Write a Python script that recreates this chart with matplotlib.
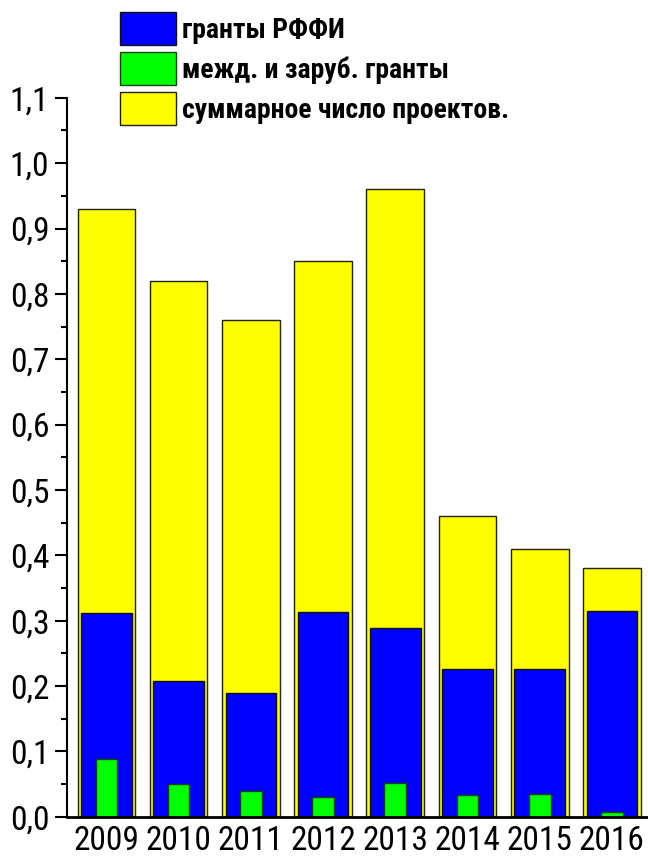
import matplotlib
matplotlib.use('Agg')
import matplotlib.pyplot as plt
from matplotlib.ticker import MultipleLocator, FuncFormatter

years = ['2009', '2010', '2011', '2012', '2013', '2014', '2015', '2016']
total = [0.93, 0.82, 0.76, 0.85, 0.96, 0.46, 0.41, 0.38]
rffi = [0.312, 0.207, 0.190, 0.313, 0.289, 0.226, 0.226, 0.315]
intl = [0.089, 0.050, 0.040, 0.030, 0.052, 0.034, 0.035, 0.007]

plt.rcParams['font.family'] = ['Roboto Condensed', 'PT Sans Narrow', 'DejaVu Sans']

fig = plt.figure(figsize=(6.48, 8.61), dpi=100)
ax = fig.add_axes([0.104, 0.0514, 0.896, 0.835])

x = list(range(len(years)))
b_total = ax.bar(x, total, width=0.8, color='#FFFF00', edgecolor='#222200', linewidth=1,
                 label='суммарное число проектов.', zorder=1)
b_rffi = ax.bar(x, rffi, width=0.7, color='#0000FF', edgecolor='#111111', linewidth=1,
                label='гранты РФФИ', zorder=2)
b_intl = ax.bar(x, intl, width=0.3, color='#00FF00', edgecolor='#114411', linewidth=1,
                label='межд. и заруб. гранты', zorder=3)

ax.set_xlim(-0.54, 7.5)
ax.set_ylim(0, 1.1)
ax.set_xticks(x)
ax.set_xticklabels(years, fontsize=24)
ax.tick_params(axis='x', length=0, pad=6)

ax.yaxis.set_major_locator(MultipleLocator(0.1))
ax.yaxis.set_minor_locator(MultipleLocator(0.05))
ax.yaxis.set_major_formatter(FuncFormatter(lambda v, p: f'{v:.1f}'.replace('.', ',')))
ax.tick_params(axis='y', which='major', length=9, width=1.5, labelsize=24, pad=4)
ax.tick_params(axis='y', which='minor', length=4.5, width=1.5)

ax.spines['top'].set_visible(False)
ax.spines['right'].set_visible(False)
ax.spines['left'].set_linewidth(1.5)
ax.spines['bottom'].set_linewidth(2)
ax.spines['bottom'].set_zorder(5)

fig.legend(handles=[b_rffi, b_intl, b_total], loc='upper left',
           bbox_to_anchor=(0.185, 0.986), frameon=False,
           prop={'weight': 'bold', 'size': 20},
           handlelength=2.01, handleheight=1.45, labelspacing=0.25,
           handletextpad=0.24, borderpad=0, borderaxespad=0)

fig.savefig('out.png', dpi=100)
